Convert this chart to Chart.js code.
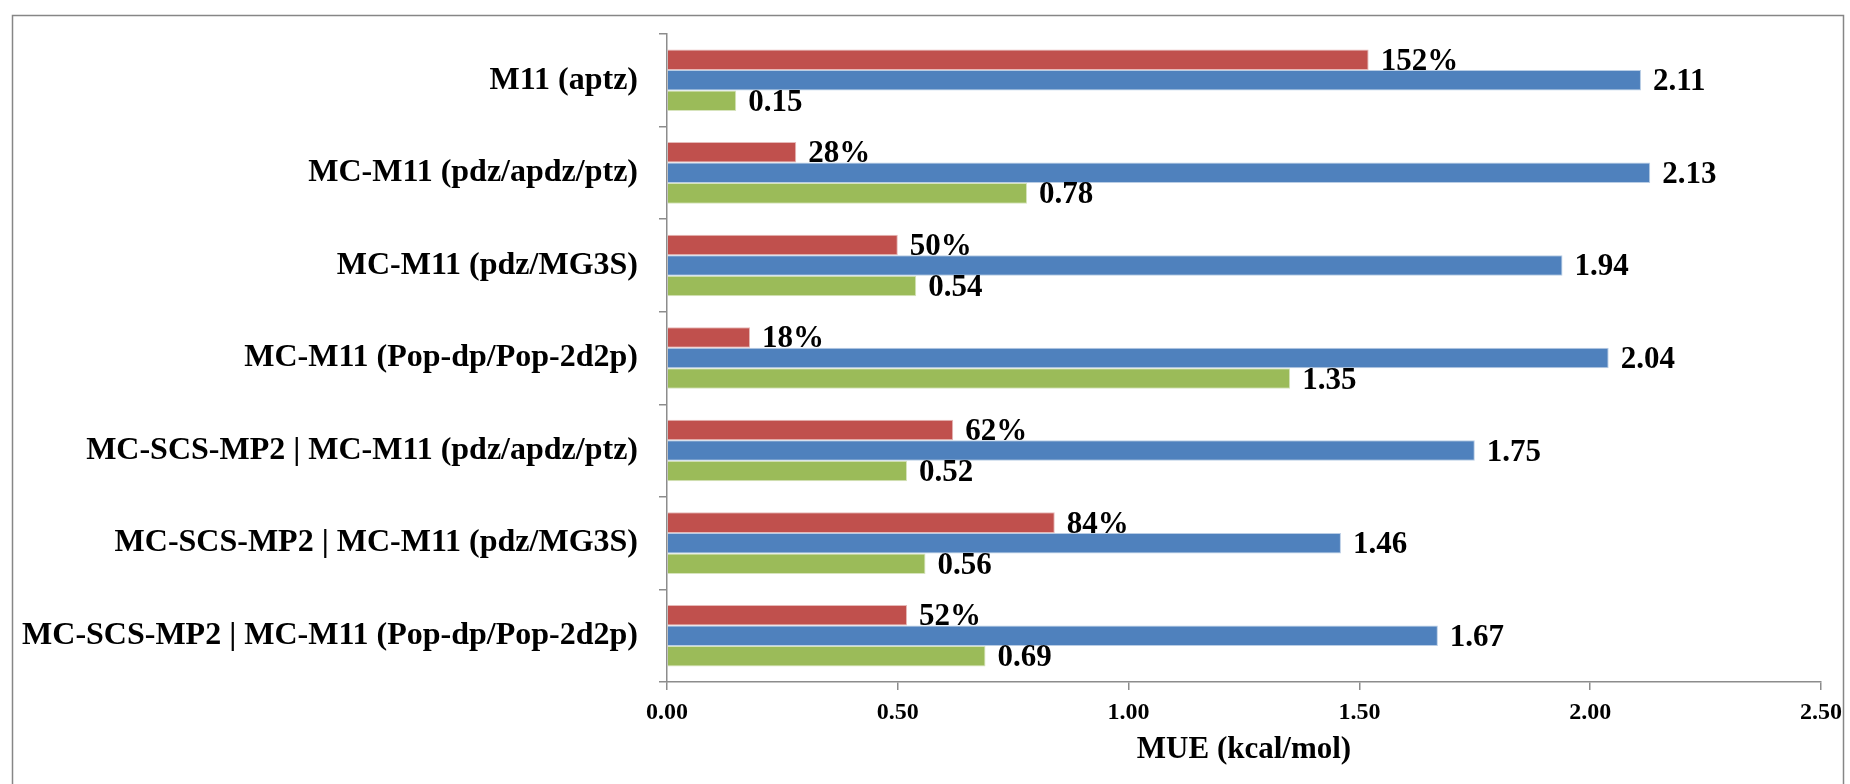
<!DOCTYPE html>
<html>
<head>
<meta charset="utf-8">
<script src="https://cdn.jsdelivr.net/npm/chart.js@4/dist/chart.umd.min.js"></script>
<style>
  html, body { margin: 0; padding: 0; background: #ffffff; }
  #wrap { position: relative; width: 1850px; height: 784px; }
</style>
</head>
<body>
<div id="wrap"><canvas id="c" width="1850" height="784"></canvas></div>
<script>
// Methods compared
const categories = [
  'M11 (aptz)',
  'MC-M11 (pdz/apdz/ptz)',
  'MC-M11 (pdz/MG3S)',
  'MC-M11 (Pop-dp/Pop-2d2p)',
  'MC-SCS-MP2 | MC-M11 (pdz/apdz/ptz)',
  'MC-SCS-MP2 | MC-M11 (pdz/MG3S)',
  'MC-SCS-MP2 | MC-M11 (Pop-dp/Pop-2d2p)'
];
// Relative cost, percent (bar drawn as fraction on the MUE axis)
const costPercent = [152, 28, 50, 18, 62, 84, 52];
// MUE values, kcal/mol
const mueBlue = [2.11, 2.13, 1.94, 2.04, 1.75, 1.46, 1.67];
const mueGreen = [0.15, 0.78, 0.54, 1.35, 0.52, 0.56, 0.69];
// Axis ticks
const xTicks = [0, 0.5, 1.0, 1.5, 2.0, 2.5];

const SERIF = "'Liberation Serif', 'Times New Roman', serif";
const AXIS_GRAY = '#8c8c8c';

// Value labels placed just right of each bar end
const barLabels = {
  id: 'barLabels',
  afterDatasetsDraw(chart) {
    const ctx = chart.ctx;
    ctx.save();
    ctx.fillStyle = '#000';
    ctx.font = 'bold 31px ' + SERIF;
    ctx.textAlign = 'left';
    ctx.textBaseline = 'middle';
    chart.data.datasets.forEach((ds, di) => {
      const meta = chart.getDatasetMeta(di);
      meta.data.forEach((bar, i) => {
        ctx.fillText(ds.labels[i], bar.x + 12, bar.y + 2);
      });
    });
    ctx.restore();
  }
};

// Outer frame around the whole chart
const frame = {
  id: 'frame',
  afterDraw(chart) {
    const ctx = chart.ctx;
    ctx.save();
    ctx.strokeStyle = '#868686';
    ctx.lineWidth = 1.5;
    ctx.strokeRect(12.5, 15.5, chart.width - 19, chart.height + 20);
    ctx.restore();
  }
};

new Chart(document.getElementById('c'), {
  type: 'bar',
  data: {
    labels: categories,
    datasets: [
      {
        data: costPercent.map(v => v / 100),
        labels: costPercent.map(v => v + '%'),
        backgroundColor: '#C0504D',
        borderColor: '#E6B9B8'
      },
      {
        data: mueBlue,
        labels: mueBlue.map(v => v.toFixed(2)),
        backgroundColor: '#4F81BD',
        borderColor: '#B9CDE5'
      },
      {
        data: mueGreen,
        labels: mueGreen.map(v => v.toFixed(2)),
        backgroundColor: '#9BBB59',
        borderColor: '#D7E4BD'
      }
    ]
  },
  options: {
    indexAxis: 'y',
    responsive: false,
    animation: false,
    events: [],
    datasets: {
      bar: { categoryPercentage: 0.665, barPercentage: 1.0, borderWidth: 1 }
    },
    layout: { padding: { top: 34, right: 29, bottom: 0, left: 0 } },
    plugins: {
      legend: { display: false },
      tooltip: { enabled: false }
    },
    scales: {
      x: {
        min: 0,
        max: 2.5,
        afterBuildTicks(scale) { scale.ticks = xTicks.map(v => ({ value: v })); },
        afterFit(scale) { scale.height = 102; },
        border: { display: true, color: AXIS_GRAY, width: 1.5 },
        grid: { display: true, drawOnChartArea: false, drawTicks: true, tickLength: 8, color: AXIS_GRAY, lineWidth: 1.5 },
        title: {
          display: true,
          text: 'MUE (kcal/mol)',
          color: '#000',
          font: { family: SERIF, size: 31, weight: 'bold' },
          padding: { top: 0, bottom: 15 }
        },
        ticks: {
          padding: 8,
          color: '#000',
          font: { family: SERIF, size: 24, weight: 'bold' },
          callback: v => Number(v).toFixed(2),
          maxRotation: 0
        }
      },
      y: {
        afterFit(scale) {
          scale.width = 667;
          scale.paddingTop = 0;
          scale.paddingBottom = 0;
        },
        border: { display: true, color: AXIS_GRAY, width: 1.5 },
        grid: { display: true, drawOnChartArea: false, drawTicks: true, tickLength: 8, color: AXIS_GRAY, lineWidth: 1.5 },
        ticks: {
          padding: 21,
          color: '#000',
          font: { family: SERIF, size: 32, weight: 'bold' }
        }
      }
    }
  },
  plugins: [barLabels, frame]
});
</script>
</body>
</html>
